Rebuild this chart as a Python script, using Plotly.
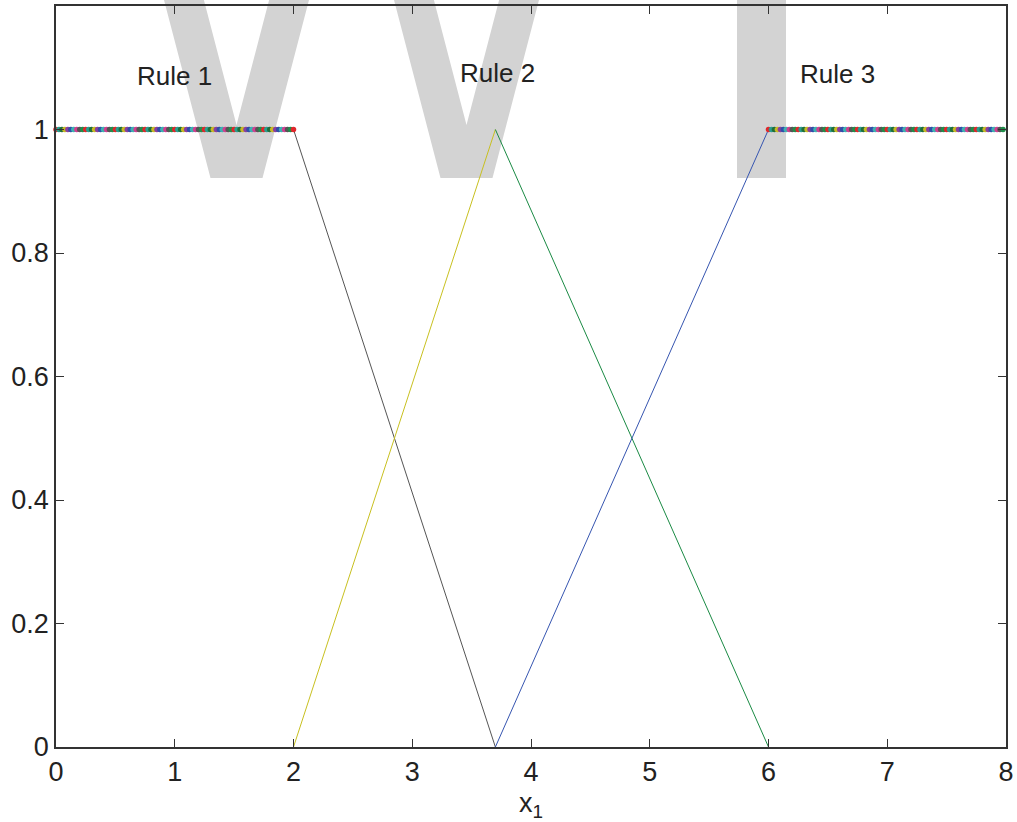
import numpy as np
import plotly.graph_objects as go

# ---- data ----
rule1_x = [0, 2, 3.7]
rule1_y = [1, 1, 0]
rule2_up_x = [2, 3.7]
rule2_up_y = [0, 1]
rule2_dn_x = [3.7, 6]
rule2_dn_y = [1, 0]
rule3_x = [3.7, 6, 8]
rule3_y = [0, 1, 1]

flat_segments = [(0.0, 2.0), (6.0, 8.0)]   # ranges where membership = 1
flat_value = 1.0
sample_step = 0.025
dot_colors = ['#e0262b', '#2a9d8f', '#1f6e3a', '#c9b824', '#8a3fa0',
              '#2f4fa8', '#3bb3b0', '#d04090', '#555555', '#1f8f4a']

rule_labels = ['Rule 1', 'Rule 2', 'Rule 3']
rule_label_x = [1.0, 3.72, 6.58]
rule_label_y = [1.087, 1.092, 1.09]

xticks = [0, 1, 2, 3, 4, 5, 6, 7, 8]
yticks = [0, 0.2, 0.4, 0.6, 0.8, 1]
ytick_text = ['0', '0.2', '0.4', '0.6', '0.8', '1']

W, H = 1017, 822
ML, MR, MT, MB = 56, 11, 6, 75
PW, PH = W - ML - MR, H - MT - MB

fig = go.Figure()

line_colors = ['#555555', '#c8c020', '#1a8a44', '#3655b0']
fig.add_trace(go.Scatter(x=rule1_x, y=rule1_y, mode='lines',
                         line=dict(color=line_colors[0], width=1)))
fig.add_trace(go.Scatter(x=rule2_up_x, y=rule2_up_y, mode='lines',
                         line=dict(color=line_colors[1], width=1)))
fig.add_trace(go.Scatter(x=rule2_dn_x, y=rule2_dn_y, mode='lines',
                         line=dict(color=line_colors[2], width=1)))
fig.add_trace(go.Scatter(x=rule3_x, y=rule3_y, mode='lines',
                         line=dict(color=line_colors[3], width=1)))

# multicoloured sample dots on the flat parts
for a, b in flat_segments:
    xs = np.arange(a, b + sample_step / 2, sample_step)
    cols = [dot_colors[i % len(dot_colors)] for i in range(len(xs))]
    fig.add_trace(go.Scatter(x=xs, y=[flat_value] * len(xs), mode='markers',
                             marker=dict(color=cols, size=5.5, line=dict(width=0)),
                             cliponaxis=False))

for t, x, y in zip(rule_labels, rule_label_x, rule_label_y):
    fig.add_annotation(x=x, y=y, text=t, showarrow=False,
                       font=dict(size=26, color='#222222'),
                       xanchor='center', yanchor='middle')

# ---- grey watermark glyph fragments (decoration, pixel -> paper) ----
def px(xp):
    return (xp - ML) / PW

def py(yp):
    return (H - MB - yp) / PH

def vpath(c):
    s = 0.261
    ytop = -40
    pts = [(c - (72.5 + 40 * s), ytop), (c - 26, 178), (c + 26, 178),
           (c + (72.5 + 40 * s), ytop), (c + (32.6 + 40 * s), ytop),
           (c, 125), (c - (32.6 + 40 * s), ytop)]
    d = 'M ' + ' L '.join(f'{px(x):.5f},{py(y):.5f}' for x, y in pts) + ' Z'
    return d

wm_color = '#d3d3d3'
for c in (236.5, 466.5):
    fig.add_shape(type='path', path=vpath(c), xref='paper', yref='paper',
                  fillcolor=wm_color, line=dict(width=0), layer='below')
fig.add_shape(type='rect', x0=px(737), x1=px(786), y0=py(178), y1=py(-40),
              xref='paper', yref='paper', fillcolor=wm_color,
              line=dict(width=0), layer='below')

axis_common = dict(showline=True, linecolor='#333333', linewidth=1.5,
                   mirror='ticks', ticks='inside', ticklen=8, tickwidth=1,
                   tickcolor='#333333', showgrid=False, zeroline=False,
                   tickfont=dict(size=27, color='#222222'))

fig.update_xaxes(range=[0, 8], tickvals=xticks, **axis_common,
                 title=dict(text='x<sub>1</sub>', font=dict(size=27, color='#222222'),
                            standoff=10))
fig.update_yaxes(range=[0, 1.2], tickvals=yticks, ticktext=ytick_text,
                 **axis_common)

fig.update_layout(width=W, height=H, showlegend=False,
                  margin=dict(l=ML, r=MR, t=MT, b=MB, autoexpand=False),
                  paper_bgcolor='white', plot_bgcolor='rgba(0,0,0,0)',
                  font=dict(family='Liberation Sans, Arial, sans-serif'))

fig.write_html('out.html')
